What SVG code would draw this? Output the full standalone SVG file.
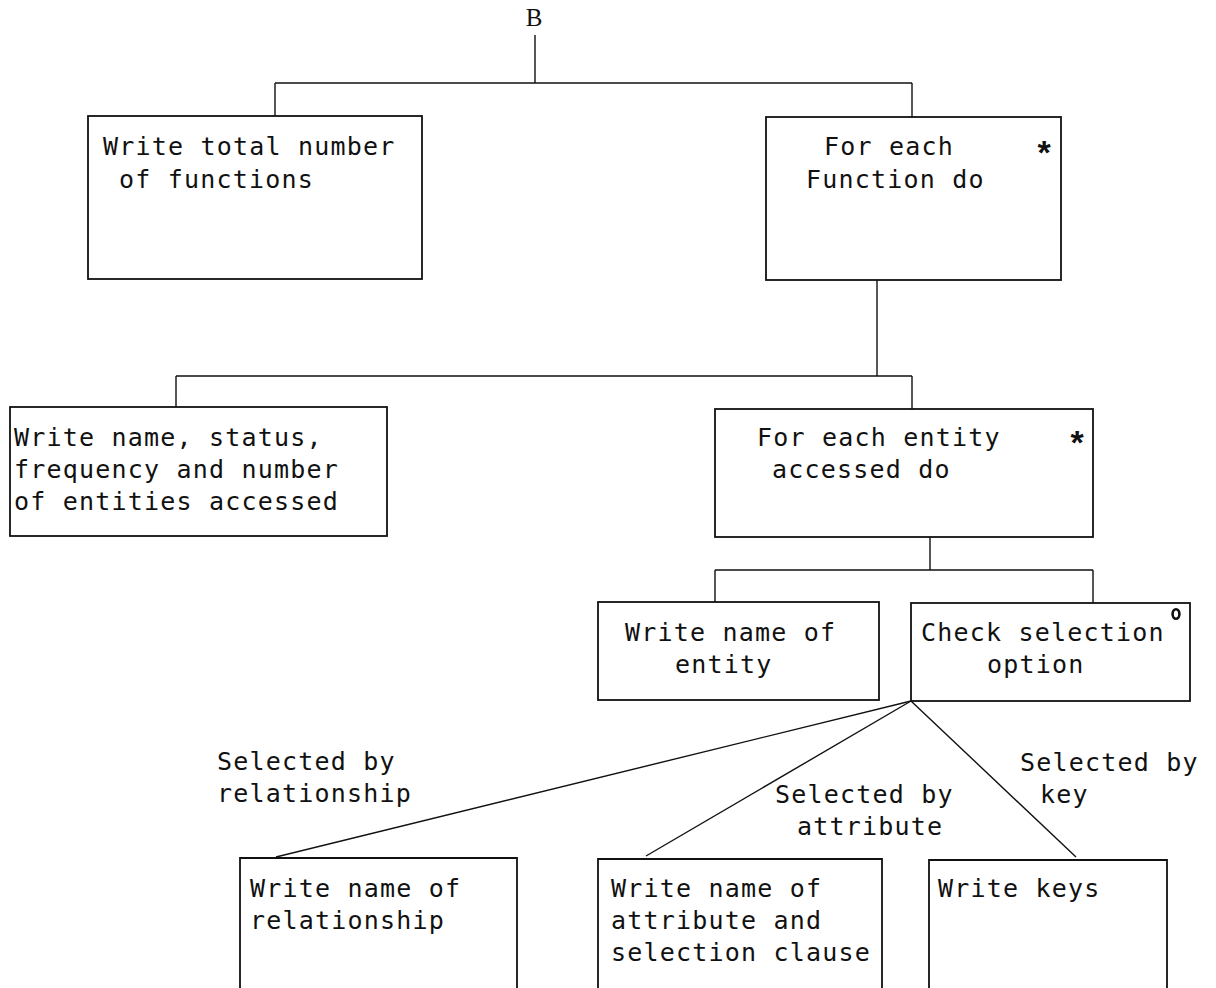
<svg xmlns="http://www.w3.org/2000/svg" width="1216" height="988" viewBox="0 0 1216 988">
  <style>
    .box { fill: #ffffff; stroke: #111111; stroke-width: 1.8; }
    .wire { fill: none; stroke: #111111; stroke-width: 1.4; }
    text { font-family: "DejaVu Sans Mono", "Liberation Mono", monospace; font-size: 25px; fill: #111111; letter-spacing: 1.2px; }
    .root { font-family: "Liberation Serif", serif; font-size: 25px; letter-spacing: 0; }
    .star { font-family: "Liberation Sans", sans-serif; font-weight: bold; font-size: 34px; letter-spacing: 0; }
  </style>
  <rect width="1216" height="988" fill="#ffffff"/>

  <!-- tree connectors -->
  <g id="connectors">
    <path class="wire" d="M535,35 V83 M275,83 H912 M275,83 V116 M912,83 V117"/>
    <path class="wire" d="M877,280 V376 M176,376 H912 M176,376 V407 M912,376 V409"/>
    <path class="wire" d="M930,537 V570 M715,570 H1093 M715,570 V602 M1093,570 V603"/>
    <path class="wire" d="M911,701 L276,857 M1076,857 L911,701"/>
    <path class="wire" stroke-width="2" d="M911,701 L646,856"/>
    <text x="217" y="770">Selected by</text>
    <text x="217" y="802">relationship</text>
    <text x="775" y="803">Selected by</text>
    <text x="797" y="835">attribute</text>
    <text x="1020" y="771">Selected by</text>
    <text x="1040" y="803">key</text>
  </g>

  <g id="root">
    <text x="534" y="26" class="root" text-anchor="middle">B</text>
  </g>

  <g id="write-total">
    <rect class="box" x="88" y="116" width="334" height="163"/>
    <text x="103" y="155">Write total number</text>
    <text x="119" y="188">of functions</text>
  </g>

  <g id="each-function">
    <rect class="box" x="766" y="117" width="295" height="163"/>
    <text x="824" y="155">For each</text>
    <text x="806" y="188">Function do</text>
    <text x="1044" y="164" class="star" text-anchor="middle">*</text>
  </g>

  <g id="write-function-info">
    <rect class="box" x="10" y="407" width="377" height="129"/>
    <text x="14" y="446">Write name, status,</text>
    <text x="14" y="478">frequency and number</text>
    <text x="14" y="510">of entities accessed</text>
  </g>

  <g id="each-entity">
    <rect class="box" x="715" y="409" width="378" height="128"/>
    <text x="757" y="446">For each entity</text>
    <text x="772" y="478">accessed do</text>
    <text x="1077" y="454" class="star" text-anchor="middle">*</text>
  </g>

  <g id="write-entity">
    <rect class="box" x="598" y="602" width="281" height="98"/>
    <text x="625" y="641">Write name of</text>
    <text x="675" y="673">entity</text>
  </g>

  <g id="check-selection">
    <rect class="box" x="911" y="603" width="279" height="98"/>
    <text x="921" y="641">Check selection</text>
    <text x="987" y="673">option</text>
    <ellipse cx="1176" cy="614" rx="3.4" ry="4.8" fill="none" stroke="#111111" stroke-width="2.6"/>
  </g>

  <g id="write-relationship">
    <path class="box" d="M240,988 V858 H517 V988"/>
    <text x="250" y="897">Write name of</text>
    <text x="250" y="929">relationship</text>
  </g>

  <g id="write-attribute">
    <path class="box" d="M598,988 V859 H882 V988"/>
    <text x="611" y="897">Write name of</text>
    <text x="611" y="929">attribute and</text>
    <text x="611" y="961">selection clause</text>
  </g>

  <g id="write-keys">
    <path class="box" d="M929,988 V860 H1167 V988"/>
    <text x="938" y="897">Write keys</text>
  </g>
</svg>
